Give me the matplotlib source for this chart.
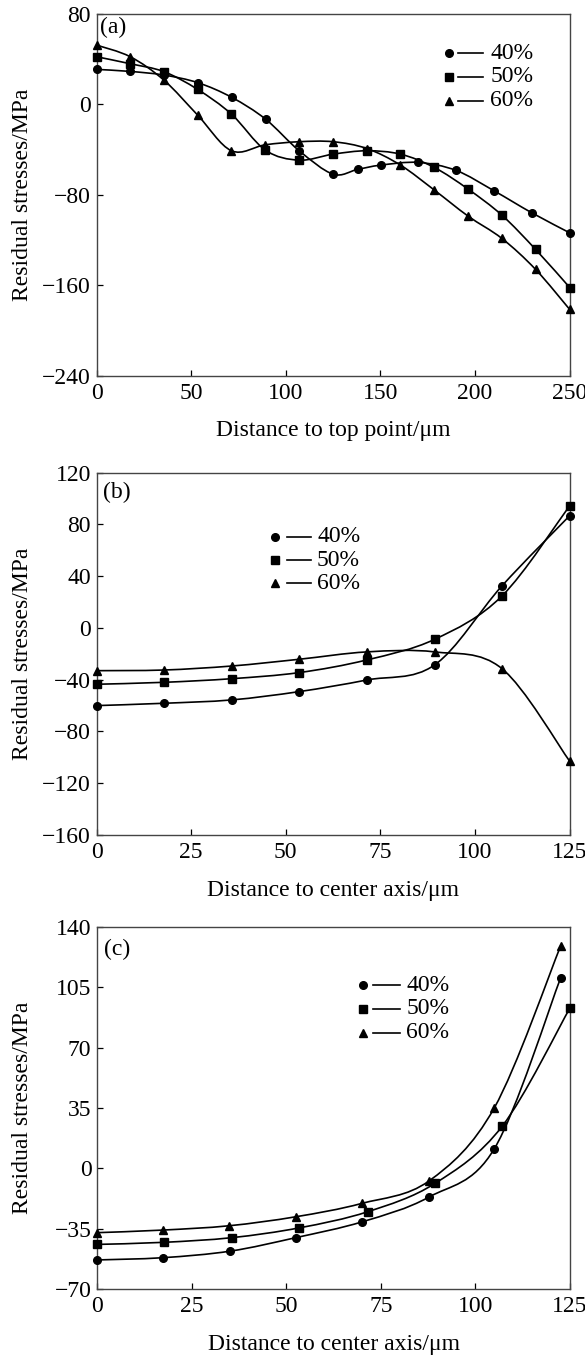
import numpy as np
import matplotlib
matplotlib.use("Agg")
import matplotlib.pyplot as plt
from matplotlib.path import Path
from matplotlib.patches import PathPatch

plt.rcParams['font.family'] = ['Liberation Serif', 'DejaVu Serif']
plt.rcParams['axes.unicode_minus'] = True

labels = ["40%", "50%", "60%"]
markers = ["o", "s", "^"]
msizes = [5.5, 5.5, 6.0]

# Panel (a)
a_x40 = [0, 17.8, 35.6, 53.6, 71.5, 89.3, 107.1, 125.0, 137.9, 150.2, 170.0, 190.0, 210.0, 230.0, 250.0]
a_y40 = [31, 29.2, 26, 19.2, 6.2, -13, -41, -61.7, -57.5, -53.7, -51.3, -58.4, -76.4, -95.9, -113.6]
a_x50 = [0, 17.8, 35.6, 53.4, 71.3, 89.2, 107.0, 125.0, 142.8, 160.6, 178.5, 196.3, 214.2, 232.0, 250.0]
a_y50 = [42.2, 36, 29, 13.3, -8.6, -40.4, -49.3, -44, -41, -44, -55.8, -74.9, -98, -128.3, -162]
a_x60 = [0, 17.8, 35.6, 53.4, 71.3, 89.2, 107.0, 125.0, 142.8, 160.6, 178.5, 196.3, 214.2, 232.0, 250.0]
a_y60 = [52.5, 42.2, 21.5, -9.4, -41, -35.7, -33, -33, -39, -53.7, -75.8, -98.8, -118.6, -146, -181.4]

# Panel (b)
b_x = [0, 17.8, 35.7, 53.5, 71.4, 89.3, 107.1, 125.0]
b_y40 = [-60, -58.2, -55.6, -49.2, -40.2, -28.6, 32.5, 86.8]
b_y50 = [-43.5, -42, -39.2, -34.5, -24.7, -8.8, 24.7, 94.5]
b_y60 = [-33, -32.5, -29.4, -24.2, -18.5, -18.5, -31.4, -103]

# Panel (c)
c_x40 = [0, 17.4, 35.2, 52.5, 70.1, 87.7, 105.0, 122.5]
c_y40 = [-53, -51.7, -47.9, -40.1, -30.9, -16.6, 11.4, 110.2]
c_x50 = [0, 17.6, 35.6, 53.5, 71.5, 89.3, 107.1, 125.0]
c_y50 = [-44, -42.8, -40.1, -34.4, -25.1, -8.7, 24.5, 93]
c_x60 = [0, 17.4, 34.9, 52.5, 69.9, 87.7, 105.0, 122.5]
c_y60 = [-37.2, -35.7, -33.2, -28, -20.3, -7.3, 35.1, 128.7]

panels = [
    dict(tag="(a)", xs=[a_x40, a_x50, a_x60], ys=[a_y40, a_y50, a_y60],
         xlim=(0, 250), xticks=[0, 50, 100, 150, 200, 250],
         ylim=(-240, 80), yticks=[-240, -160, -80, 0, 80],
         xlabel="Distance to top point/\u03bcm",
         rect=[96.5, 14.0, 473.2, 361.7],
         leg=(0.744, 0.765, 0.817, 0.832, [0.891, 0.826, 0.760]),
         tagpos=(0.008, 0.962)),
    dict(tag="(b)", xs=[b_x, b_x, b_x], ys=[b_y40, b_y50, b_y60],
         xlim=(0, 125), xticks=[0, 25, 50, 75, 100, 125],
         ylim=(-160, 120), yticks=[-160, -120, -80, -40, 0, 40, 80, 120],
         xlabel="Distance to center axis/\u03bcm",
         rect=[96.5, 472.7, 473.2, 362.3],
         leg=(0.377, 0.402, 0.453, 0.466, [0.823, 0.759, 0.695]),
         tagpos=(0.014, 0.945)),
    dict(tag="(c)", xs=[c_x40, c_x50, c_x60], ys=[c_y40, c_y50, c_y60],
         xlim=(0, 125), xticks=[0, 25, 50, 75, 100, 125],
         ylim=(-70, 140), yticks=[-70, -35, 0, 35, 70, 105, 140],
         xlabel="Distance to center axis/\u03bcm",
         rect=[97.0, 926.7, 473.0, 362.6],
         leg=(0.563, 0.584, 0.640, 0.654, [0.839, 0.774, 0.708]),
         tagpos=(0.014, 0.938)),
]

W, H = 585, 1355
fig = plt.figure(figsize=(W / 100, H / 100), dpi=100)


def smooth_path(x, y):
    P = np.column_stack([x, y]).astype(float)
    n = len(P)
    verts = [P[0]]
    codes = [Path.MOVETO]
    for i in range(n - 1):
        p0 = P[i - 1] if i > 0 else P[i]
        p1 = P[i]
        p2 = P[i + 1]
        p3 = P[i + 2] if i + 2 < n else P[i + 1]
        c1 = p1 + (p2 - p0) / 6.0
        c2 = p2 - (p3 - p1) / 6.0
        verts += [c1, c2, p2]
        codes += [Path.CURVE4] * 3
    return Path(verts, codes)


for p in panels:
    l, t, w, h = p["rect"]
    ax = fig.add_axes([l / W, 1 - (t + h) / H, w / W, h / H])
    for xs, ys, m, ms in zip(p["xs"], p["ys"], markers, msizes):
        ax.add_patch(PathPatch(smooth_path(xs, ys), facecolor="none",
                               edgecolor="black", lw=1.2, clip_on=False))
        ax.plot(xs, ys, linestyle="none", marker=m, ms=ms, color="black",
                clip_on=False, zorder=3)
    ax.set_xlim(*p["xlim"])
    ax.set_ylim(*p["ylim"])
    ax.set_xticks(p["xticks"])
    ax.set_yticks(p["yticks"])
    ax.tick_params(direction="in", length=4.5, width=0.9, labelsize=17,
                   top=False, right=False, colors="black")
    ax.tick_params(axis="x", pad=5)
    ax.tick_params(axis="y", pad=4)
    for s in ax.spines.values():
        s.set_linewidth(1.0)
        s.set_color("#444444")
    ax.set_xlabel(p["xlabel"], fontsize=17, labelpad=12)
    ax.set_ylabel("Residual stresses/MPa", fontsize=17)
    ax.yaxis.set_label_coords(-0.135, 0.5)
    ax.text(p["tagpos"][0], p["tagpos"][1], p["tag"], transform=ax.transAxes,
            fontsize=17, ha="left", va="center")
    xm, xl1, xl2, xt, rows = p["leg"]
    for lab, m, ms, yy in zip(labels, markers, msizes, rows):
        ax.plot([xm], [yy], marker=m, ms=ms, color="black", linestyle="none",
                transform=ax.transAxes)
        ax.plot([xl1, xl2], [yy, yy], color="black", lw=1.2,
                transform=ax.transAxes)
        ax.text(xt, yy, lab, transform=ax.transAxes, fontsize=17,
                ha="left", va="center")

fig.savefig("out.png", dpi=100)
